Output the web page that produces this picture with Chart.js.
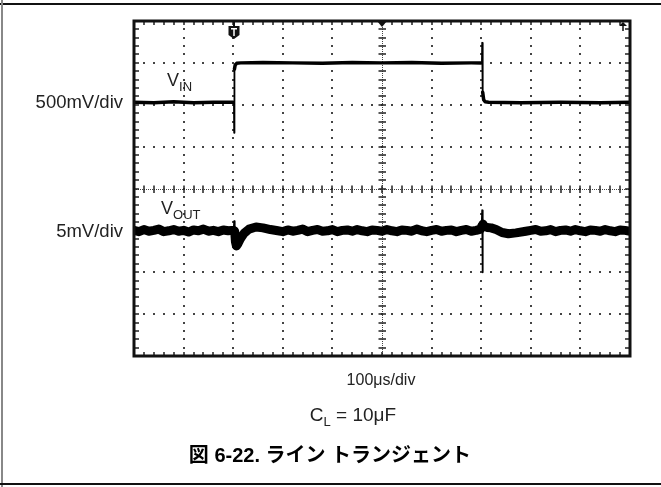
<!DOCTYPE HTML>
<html>
<head>
<meta charset="utf-8">
<script src="https://cdn.jsdelivr.net/npm/chart.js"></script>
<style>
    body { margin: 0; background: #fff; }
    #wrap { position: relative; width: 661px; height: 487px; overflow: hidden; }
    #myChart { position: absolute; left: 0; top: 0; }
    .lbl { position: absolute; font-family: "Liberation Sans", Arial, sans-serif; color: #222; white-space: nowrap; line-height: 20px; }
    .lbl sub { font-size: 13px; vertical-align: -5px; line-height: 0; }
    .frame-top { position: absolute; left: 0; top: 3px; width: 661px; height: 2px; background: #111; }
    .frame-left { position: absolute; left: 1px; top: 0; width: 2px; height: 487px; background: #888; }
    .frame-bot { position: absolute; left: 0; top: 483px; width: 661px; height: 2px; background: #111; }
</style>
</head>
<body>
<div id="wrap">
    <canvas id="myChart" width="661" height="487"></canvas>
    <div class="frame-top"></div>
    <div class="frame-left"></div>
    <div class="frame-bot"></div>

    <div class="lbl" style="right:538px; top:92px; font-size:18.5px;">500mV/div</div>
    <div class="lbl" style="right:538px; top:221px; font-size:18.5px;">5mV/div</div>
    <div class="lbl" style="left:167px; top:70px; font-size:18px;">V<sub>IN</sub></div>
    <div class="lbl" style="left:161px; top:198px; font-size:18px;">V<sub>OUT</sub></div>

    <div class="lbl" style="left:281px; width:200px; text-align:center; top:370px; font-size:16px;">100μs/div</div>
    <div class="lbl" style="left:253px; width:200px; text-align:center; top:405px; font-size:19px;">C<sub>L</sub> = 10μF</div>
    <div class="lbl" style="left:130px; width:400px; text-align:center; top:445px; font-size:20px; font-weight:bold; color:#000; font-family:'Liberation Sans','Noto Sans CJK JP',sans-serif;">図 6-22. ライン トランジェント</div>
</div>

<script type="text/javascript">
    // time in µs, levels in screen divisions (centre = 0)
    const vinTime = [0, 40, 80, 120, 160, 200, 201.5, 202, 202.5, 204, 207, 215, 260, 320, 380, 440, 500, 560, 620, 680, 700, 701.5, 702, 703, 705, 708, 715, 780, 860, 940, 1000];
    const vinLevel = [2.06, 2.05, 2.07, 2.05, 2.06, 2.06, 2.06, 1.33, 2.85, 2.95, 2.99, 3.0, 3.01, 3.0, 2.99, 3.01, 3.0, 3.01, 2.99, 3.0, 3.0, 3.0, 3.48, 2.3, 2.12, 2.07, 2.06, 2.05, 2.06, 2.05, 2.06];

    const voutTime = [
        0, 10, 20, 30, 40, 50, 60, 70, 80, 90, 100, 110, 120, 130, 140, 150, 160, 170, 180, 190, 197,
        201, 202, 203, 204.5, 206.5, 210, 215, 222, 232, 246, 260, 275, 290, 300,
        310, 320, 330, 340, 350, 360, 370, 380, 390, 400, 410, 420, 430, 440, 450, 460, 470, 480, 490, 500,
        510, 520, 530, 540, 550, 560, 570, 580, 590, 600, 610, 620, 630, 640, 650, 660, 670, 680, 690,
        699, 701, 702, 702.5, 703.5, 706, 712, 720, 730, 742, 755, 770, 790,
        800, 810, 820, 830, 840, 850, 860, 870, 880, 890, 900, 910, 920, 930, 940, 950, 960, 970, 980, 990, 1000
    ];
    const voutLevel = [
        -1.00, -1.03, -0.98, -1.02, -1.00, -0.97, -1.03, -1.01, -0.98, -1.02, -1.00, -1.04, -0.99, -1.01, -0.97, -1.02, -1.00, -1.03, -0.99, -1.01, -1.00,
        -1.00, -0.78, -1.02, -1.27, -1.37, -1.31, -1.19, -1.07, -0.97, -0.92, -0.94, -0.98, -1.01, -1.03,
        -0.99, -1.02, -1.00, -0.97, -1.03, -1.00, -0.98, -1.02, -1.01, -0.98, -1.03, -1.00, -0.99, -1.02, -0.98, -1.01, -1.03, -0.99, -1.00, -1.02,
        -0.98, -1.01, -1.03, -0.99, -1.00, -1.02, -0.97, -1.01, -1.03, -1.00, -0.98, -1.02, -1.00, -0.99, -1.03, -1.00, -0.98, -1.02, -1.00,
        -0.97, -0.90, -0.52, -2.00, -0.85, -0.90, -0.93, -0.94, -0.98, -1.05, -1.08, -1.06, -1.02,
        -1.00, -0.98, -1.02, -1.01, -0.98, -1.03, -1.00, -0.99, -1.02, -0.98, -1.01, -1.03, -0.99, -1.00, -1.02, -0.98, -1.01, -1.03, -0.99, -1.00, -1.02
    ];

    const triggerTime = 202;
    const xDivs = 10, yDivs = 8;

    function pts(xs, ys) {
        return xs.map((x, i) => ({x: x, y: ys[i]}));
    }

    // steep segments (spikes) are drawn thin
    function spikeWidth(thick) {
        return function (ctx) {
            const dx = Math.abs(ctx.p1.x - ctx.p0.x);
            const dy = Math.abs(ctx.p1.y - ctx.p0.y);
            if (dy > 6 && dy > dx * 15) return 1.8;
            return thick;
        };
    }

    const scopeGrid = {
        id: 'scopeGrid',
        beforeDatasetsDraw(chart) {
            const c = chart.ctx, xs = chart.scales.x, ys = chart.scales.y;
            const a = chart.chartArea;
            const xStep = (xs.max - xs.min) / xDivs, yStep = (ys.max - ys.min) / yDivs;
            c.save();
            c.fillStyle = '#444';
            // dotted major lines
            for (let i = 1; i < xDivs; i++) {
                if (i === xDivs / 2) continue;
                const px = xs.getPixelForValue(xs.min + i * xStep);
                for (let j = 1; j < yDivs * 5; j++) {
                    const py = ys.getPixelForValue(ys.min + j * yStep / 5);
                    c.fillRect(Math.round(px) - 1, Math.round(py) - 1, 2, 2);
                }
            }
            for (let j = 1; j < yDivs; j++) {
                if (j === yDivs / 2) continue;
                const py = ys.getPixelForValue(ys.min + j * yStep);
                for (let i = 1; i < xDivs * 5; i++) {
                    const px = xs.getPixelForValue(xs.min + i * xStep / 5);
                    c.fillRect(Math.round(px) - 1, Math.round(py) - 1, 2, 2);
                }
            }
            // centre crosshair with minor ticks
            const cx = Math.round(xs.getPixelForValue((xs.min + xs.max) / 2));
            const cy = Math.round(ys.getPixelForValue((ys.min + ys.max) / 2));
            c.strokeStyle = '#444';
            c.lineWidth = 1;
            c.setLineDash([1, 1]);
            c.beginPath();
            c.moveTo(a.left, cy + 0.5); c.lineTo(a.right, cy + 0.5);
            c.moveTo(cx + 0.5, a.top); c.lineTo(cx + 0.5, a.bottom);
            c.stroke();
            c.setLineDash([]);
            c.strokeStyle = '#222';
            c.lineWidth = 1.5;
            c.beginPath();
            for (let i = 1; i < xDivs * 5; i++) {
                const px = Math.round(xs.getPixelForValue(xs.min + i * xStep / 5));
                c.moveTo(px, cy - 3.5); c.lineTo(px, cy + 4);
                // ticks on top and bottom border
                c.moveTo(px, a.top); c.lineTo(px, a.top + 4);
                c.moveTo(px, a.bottom); c.lineTo(px, a.bottom - 4);
            }
            for (let j = 1; j < yDivs * 5; j++) {
                const py = Math.round(ys.getPixelForValue(ys.min + j * yStep / 5));
                c.moveTo(cx - 3.5, py); c.lineTo(cx + 4, py);
                c.moveTo(a.left, py); c.lineTo(a.left + 5, py);
                c.moveTo(a.right, py); c.lineTo(a.right - 5, py);
            }
            c.stroke();
            c.restore();
        },
        afterDatasetsDraw(chart) {
            const c = chart.ctx, xs = chart.scales.x;
            const a = chart.chartArea;
            c.save();
            // frame
            c.strokeStyle = '#111';
            c.lineWidth = 3;
            c.strokeRect(a.left, a.top, a.right - a.left, a.bottom - a.top);
            c.fillStyle = '#111';
            // trigger marker
            const tx = Math.round(xs.getPixelForValue(triggerTime));
            c.fillRect(tx - 1, a.top, 2, 6);
            c.beginPath();
            c.moveTo(tx - 5.5, a.top + 5);
            c.lineTo(tx + 5.5, a.top + 5);
            c.lineTo(tx + 5.5, a.top + 14);
            c.lineTo(tx, a.top + 18);
            c.lineTo(tx - 5.5, a.top + 14);
            c.closePath();
            c.fill();
            c.fillStyle = '#fff';
            c.fillRect(tx - 3, a.top + 7, 6, 1.5);
            c.fillRect(tx - 0.75, a.top + 7, 1.5, 8);
            // centre position marker
            c.fillStyle = '#111';
            const cx = Math.round(xs.getPixelForValue((xs.min + xs.max) / 2));
            c.beginPath();
            c.moveTo(cx - 5, a.top);
            c.lineTo(cx + 5, a.top);
            c.lineTo(cx, a.top + 6);
            c.closePath();
            c.fill();
            // top right arrow
            const rx = a.right - 7;
            c.beginPath();
            c.moveTo(rx - 4, a.top + 5);
            c.lineTo(rx, a.top + 1);
            c.lineTo(rx + 4, a.top + 5);
            c.closePath();
            c.fill();
            c.fillRect(rx - 0.75, a.top + 3, 1.5, 7);
            c.restore();
        }
    };

    const config = {
        type: 'line',
        data: {
            datasets: [{
                label: 'VIN',
                data: pts(vinTime, vinLevel),
                borderColor: '#000',
                borderWidth: 3.5,
                pointRadius: 0,
                tension: 0,
                borderJoinStyle: 'round',
                borderCapStyle: 'round',
                segment: { borderWidth: spikeWidth(3.5) }
            }, {
                label: 'VOUT',
                data: pts(voutTime, voutLevel),
                borderColor: '#000',
                borderWidth: 9,
                pointRadius: 0,
                tension: 0,
                borderJoinStyle: 'round',
                borderCapStyle: 'round',
                segment: { borderWidth: spikeWidth(9) }
            }]
        },
        options: {
            responsive: false,
            animation: false,
            layout: { padding: { left: 134, right: 31, top: 21, bottom: 131 } },
            plugins: { legend: { display: false }, tooltip: { enabled: false } },
            scales: {
                x: { type: 'linear', min: 0, max: 1000, display: false },
                y: { type: 'linear', min: -4, max: 4, display: false }
            }
        },
        plugins: [scopeGrid]
    };

    const myChart = new Chart(document.getElementById('myChart'), config);
</script>
</body>
</html>
